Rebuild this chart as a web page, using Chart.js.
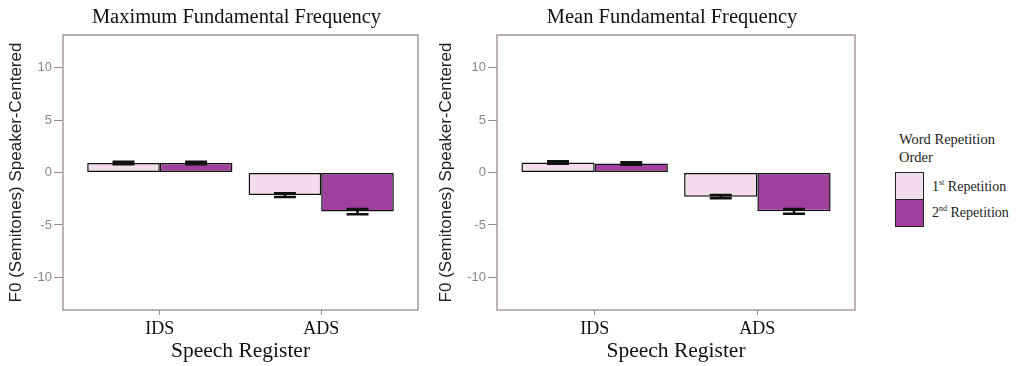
<!DOCTYPE html>
<html>
<head>
<meta charset="utf-8">
<script src="https://cdn.jsdelivr.net/npm/chart.js@4.4.1/dist/chart.umd.min.js"></script>
<style>
  body { margin: 0; background: #fff; }
  #wrap { position: relative; width: 1019px; height: 366px; overflow: hidden; }
  canvas { position: absolute; top: 0; }
  #legend { position: absolute; left: 895px; top: 130px; font-family: "Liberation Serif", serif; color: #222; }
  #legend .title { font-size: 14.5px; line-height: 18px; width: 124px; padding-left: 4px; }
  #legend .row { display: flex; align-items: center; height: 28px; font-size: 14px; }
  #legend .sw { width: 29px; height: 28px; border: 1.5px solid #222; box-sizing: border-box; margin-right: 8px; }
  #legend sup { font-size: 8px; }
</style>
</head>
<body>
<div id="wrap">
  <canvas id="maxChart" width="430" height="366" style="left:0;width:430px;height:366px"></canvas>
  <canvas id="meanChart" width="440" height="366" style="left:430px;width:440px;height:366px"></canvas>
  <div id="legend">
    <div class="title">Word Repetition<br>Order</div>
    <div style="height:6px"></div>
    <div class="row"><div class="sw" style="background:#f3dcec"></div><span>1<sup>st</sup> Repetition</span></div>
    <div class="row" style="margin-top:-1.5px"><div class="sw" style="background:#a0409e"></div><span>2<sup>nd</sup> Repetition</span></div>
  </div>
</div>
<script>
const categories = ["IDS", "ADS"];
const seriesNames = ["1st Repetition", "2nd Repetition"];
const yTicks = [-10, -5, 0, 5, 10];

// maximum F0 (means, standard errors)
const maxFirst = [0.9, -2.15];
const maxSecond = [0.9, -3.72];
const maxFirstErr = [0.12, 0.18];
const maxSecondErr = [0.12, 0.25];

// mean F0
const meanFirst = [0.95, -2.3];
const meanSecond = [0.85, -3.7];
const meanFirstErr = [0.12, 0.15];
const meanSecondErr = [0.12, 0.22];

const fillColors = ["#f3dcec", "#a0409e"];
const frameColor = "#9a8a86";

const errorBars = {
  id: "errorBars",
  afterDatasetsDraw(chart) {
    const ctx = chart.ctx;
    const y = chart.scales.y;
    ctx.save();
    ctx.strokeStyle = "#111";
    ctx.lineWidth = 2.5;
    chart.data.datasets.forEach((ds, di) => {
      chart.getDatasetMeta(di).data.forEach((bar, i) => {
        const v = ds.data[i], e = ds.err[i];
        const top = y.getPixelForValue(v + e), bot = y.getPixelForValue(v - e);
        const half = 11;
        ctx.beginPath();
        ctx.moveTo(bar.x, top); ctx.lineTo(bar.x, bot);
        ctx.moveTo(bar.x - half, top); ctx.lineTo(bar.x + half, top);
        ctx.moveTo(bar.x - half, bot); ctx.lineTo(bar.x + half, bot);
        ctx.stroke();
      });
    });
    ctx.restore();
  }
};

const panelFrame = {
  id: "panelFrame",
  afterDraw(chart, args, opts) {
    const ctx = chart.ctx, a = chart.chartArea;
    ctx.save();
    ctx.strokeStyle = frameColor;
    ctx.lineWidth = 1.3;
    ctx.strokeRect(a.left, a.top, a.right - a.left, a.bottom - a.top);
    ctx.font = "20.5px 'Liberation Serif', serif";
    ctx.fillStyle = "#111";
    ctx.textAlign = "center";
    ctx.textBaseline = "middle";
    ctx.fillText(opts.text, (a.left + a.right) / 2 - 4, 18);
    ctx.restore();
  }
};

function makeChart(id, title, first, second, firstErr, secondErr, leftW, padRight) {
  return new Chart(document.getElementById(id), {
    type: "bar",
    data: {
      labels: categories,
      datasets: [
        { label: seriesNames[0], data: first, err: firstErr, backgroundColor: fillColors[0] },
        { label: seriesNames[1], data: second, err: secondErr, backgroundColor: fillColors[1] }
      ]
    },
    options: {
      responsive: false,
      animation: false,
      layout: { padding: { left: 0, right: padRight, top: 35, bottom: 2 } },
      datasets: {
        bar: { borderColor: "#111", borderWidth: 1.5, borderSkipped: false, categoryPercentage: 0.9, barPercentage: 1 }
      },
      plugins: {
        legend: { display: false },
        tooltip: { enabled: false },
        panelFrame: { text: title }
      },
      scales: {
        x: {
          offset: true,
          // ggplot-style discrete expansion: 0.6 of a category on each side
          afterBuildTicks: s => { s._startValue = -0.6; s._valueRange = categories.length + 0.2; },
          afterFit: s => { s.height = 54; },
          ticks: {
            font: { family: "'Liberation Serif', serif", size: 18 },
            color: "#111",
            padding: 3
          },
          grid: { offset: false, drawOnChartArea: false, tickLength: 5, color: frameColor },
          border: { display: false },
          title: {
            display: true,
            text: "Speech Register",
            font: { family: "'Liberation Serif', serif", size: 21.5 },
            color: "#111",
            padding: { top: 0, bottom: 0 }
          }
        },
        y: {
          min: -13.1,
          max: 13.1,
          afterBuildTicks: s => { s.ticks = yTicks.map(v => ({ value: v })); },
          afterFit: s => { s.width = leftW; },
          ticks: {
            font: { family: "'Liberation Sans', Arial, sans-serif", size: 13 },
            color: "#888",
            padding: 2
          },
          grid: { drawOnChartArea: false, tickLength: 9, color: frameColor },
          border: { display: false },
          title: {
            display: true,
            text: "F0 (Semitones) Speaker-Centered",
            font: { family: "'Liberation Sans', Arial, sans-serif", size: 17 },
            color: "#222",
            padding: { top: 6, bottom: 0 }
          }
        }
      }
    },
    plugins: [errorBars, panelFrame]
  });
}

makeChart("maxChart", "Maximum Fundamental Frequency", maxFirst, maxSecond, maxFirstErr, maxSecondErr, 63, 12);
makeChart("meanChart", "Mean Fundamental Frequency", meanFirst, meanSecond, meanFirstErr, meanSecondErr, 67, 15);
</script>
</body>
</html>
